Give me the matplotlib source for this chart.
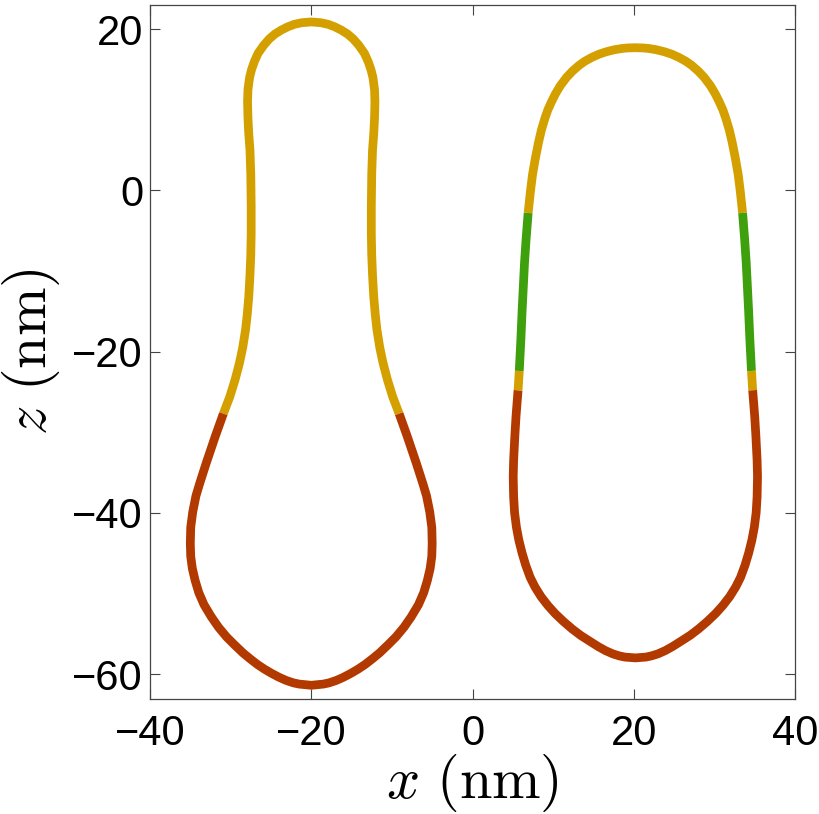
import numpy as np
import matplotlib
matplotlib.use("Agg")
import matplotlib.pyplot as plt

plt.rcParams['font.family'] = ['Liberation Sans', 'DejaVu Sans']
plt.rcParams['mathtext.fontset'] = 'cm'

# left vesicle: centre x, height z and half width along z (nm)
left_cx = -20.0
left_z = [20.9, 20.8, 20.6, 20.3, 19.9, 19.4, 18.8, 18.0, 17.0, 16.0, 15.0,
          14.0, 12.5, 11.0, 9.0, 7.0, 5.0, 2.0, -2.0, -5.3, -8.0, -10.5,
          -13.2, -15.5, -17.3, -19.5, -21.4, -23.5, -25.6, -27.7, -30.5,
          -33.9, -36.4, -37.9, -39.9, -41.8, -43.8, -45.4, -46.9, -48.4,
          -49.9, -51.4, -52.9, -54.2, -55.4, -56.4, -57.4, -58.1, -58.8,
          -59.4, -59.9, -60.4, -60.8, -61.1, -61.25, -61.4]
left_hw = [0.0, 1.2, 2.1, 2.9, 3.7, 4.5, 5.2, 5.9, 6.6, 7.05, 7.4,
           7.65, 7.85, 7.9, 7.85, 7.75, 7.6, 7.5, 7.45, 7.45, 7.5, 7.6,
           7.75, 7.95, 8.15, 8.5, 8.9, 9.45, 10.1, 10.9, 11.9,
           13.05, 13.85, 14.3, 14.7, 14.95, 15.0, 14.95, 14.75, 14.4,
           13.95, 13.3, 12.4, 11.5, 10.5, 9.5, 8.45, 7.6, 6.7,
           5.8, 4.95, 4.0, 3.1, 2.2, 1.5, 0.0]
# colour bands (upper z, lower z, colour)
left_bands = [(30, -27.7, 'yellow'), (-27.7, -70, 'red')]

# right vesicle
right_cx = 20.2
right_z = [17.7, 17.67, 17.6, 17.45, 17.2, 16.9, 16.5, 16.0, 15.5, 14.8, 14.0,
           13.0, 12.0, 11.0, 10.0, 9.0, 7.5, 6.0, 4.0, 2.0, 0.0, -2.8, -6.0,
           -9.0, -12.0, -15.0, -18.5, -22.4, -24.8, -28.0, -30.5, -33.5,
           -35.5, -38.0, -40.0, -41.8, -43.4, -45.0, -46.5, -48.0, -49.2,
           -50.4, -51.5, -52.5, -53.5, -54.4, -55.2, -56.0, -56.6, -57.1,
           -57.5, -57.75, -57.9, -58.0]
right_hw = [0.0, 1.0, 1.7, 2.6, 3.6, 4.5, 5.4, 6.3, 7.0, 7.8, 8.55,
            9.3, 9.9, 10.4, 10.85, 11.2, 11.65, 12.0, 12.4, 12.75, 13.0, 13.3,
            13.55, 13.75, 13.9, 14.05, 14.2, 14.4, 14.55, 14.8, 14.95, 15.1,
            15.15, 15.1, 14.98, 14.75, 14.45, 14.05, 13.6, 13.05, 12.45,
            11.7, 10.85, 9.95, 8.9, 7.85, 6.8, 5.55, 4.6, 3.7,
            2.8, 2.0, 1.3, 0.0]
right_bands = [(30, -2.8, 'yellow'), (-2.8, -22.4, 'green'),
               (-22.4, -24.8, 'yellow'), (-24.8, -70, 'red')]

colors = {'yellow': '#D4A000', 'red': '#B23A00', 'green': '#3DA00C'}


def draw_shape(ax, cx, z, hw, bands):
    z = np.asarray(z)
    hw = np.asarray(hw)
    # closed loop: right side down, left side back up
    xs = np.concatenate([cx + hw, (cx - hw[::-1])[1:]])
    zs = np.concatenate([z, z[::-1][1:]])
    zmid = 0.5 * (zs[:-1] + zs[1:])
    seg_col = []
    for zm in zmid:
        for hi, lo, c in bands:
            if lo <= zm <= hi:
                seg_col.append(c)
                break
    # group segments into runs of one colour
    runs = []
    start = 0
    for i in range(1, len(seg_col) + 1):
        if i == len(seg_col) or seg_col[i] != seg_col[start]:
            runs.append((start, i, seg_col[start]))
            start = i
    # first and last run meet at the top
    if len(runs) > 1 and runs[0][2] == runs[-1][2]:
        s0, e0, c0 = runs.pop(0)
        s1, e1, _ = runs.pop(-1)
        px = np.concatenate([xs[s1:e1 + 1], xs[s0 + 1:e0 + 1]])
        pz = np.concatenate([zs[s1:e1 + 1], zs[s0 + 1:e0 + 1]])
        ax.plot(px, pz, color=colors[c0], lw=6.3,
                solid_capstyle='butt', solid_joinstyle='round')
    for s, e, c in runs:
        ax.plot(xs[s:e + 1], zs[s:e + 1], color=colors[c], lw=6.3,
                solid_capstyle='butt', solid_joinstyle='round')


fig = plt.figure(figsize=(8.19, 8.14), dpi=100)
ax = fig.add_axes([150 / 819, 115 / 814, 645 / 819, 694 / 814])

draw_shape(ax, left_cx, left_z, left_hw, left_bands)
draw_shape(ax, right_cx, right_z, right_hw, right_bands)

ax.set_xlim(-40, 40)
ax.set_ylim(-63.1, 23.0)
ax.set_xticks([-40, -20, 0, 20, 40])
ax.set_yticks([-60, -40, -20, 0, 20])
ax.tick_params(direction='in', top=True, right=True, length=7, width=0.8,
               labelsize=30, color='#444444')
ax.tick_params(axis='x', pad=11)
ax.tick_params(axis='y', pad=5)
for sp in ax.spines.values():
    sp.set_linewidth(0.9)
    sp.set_color('#444444')

ax.set_xlabel(r'$x\ (\mathrm{nm})$', fontsize=42)
ax.set_ylabel(r'$z\ (\mathrm{nm})$', fontsize=42)
ax.xaxis.set_label_coords(0.5, -0.076)
ax.yaxis.set_label_coords(-0.136, 0.5)

fig.savefig('out.png', dpi=100)
